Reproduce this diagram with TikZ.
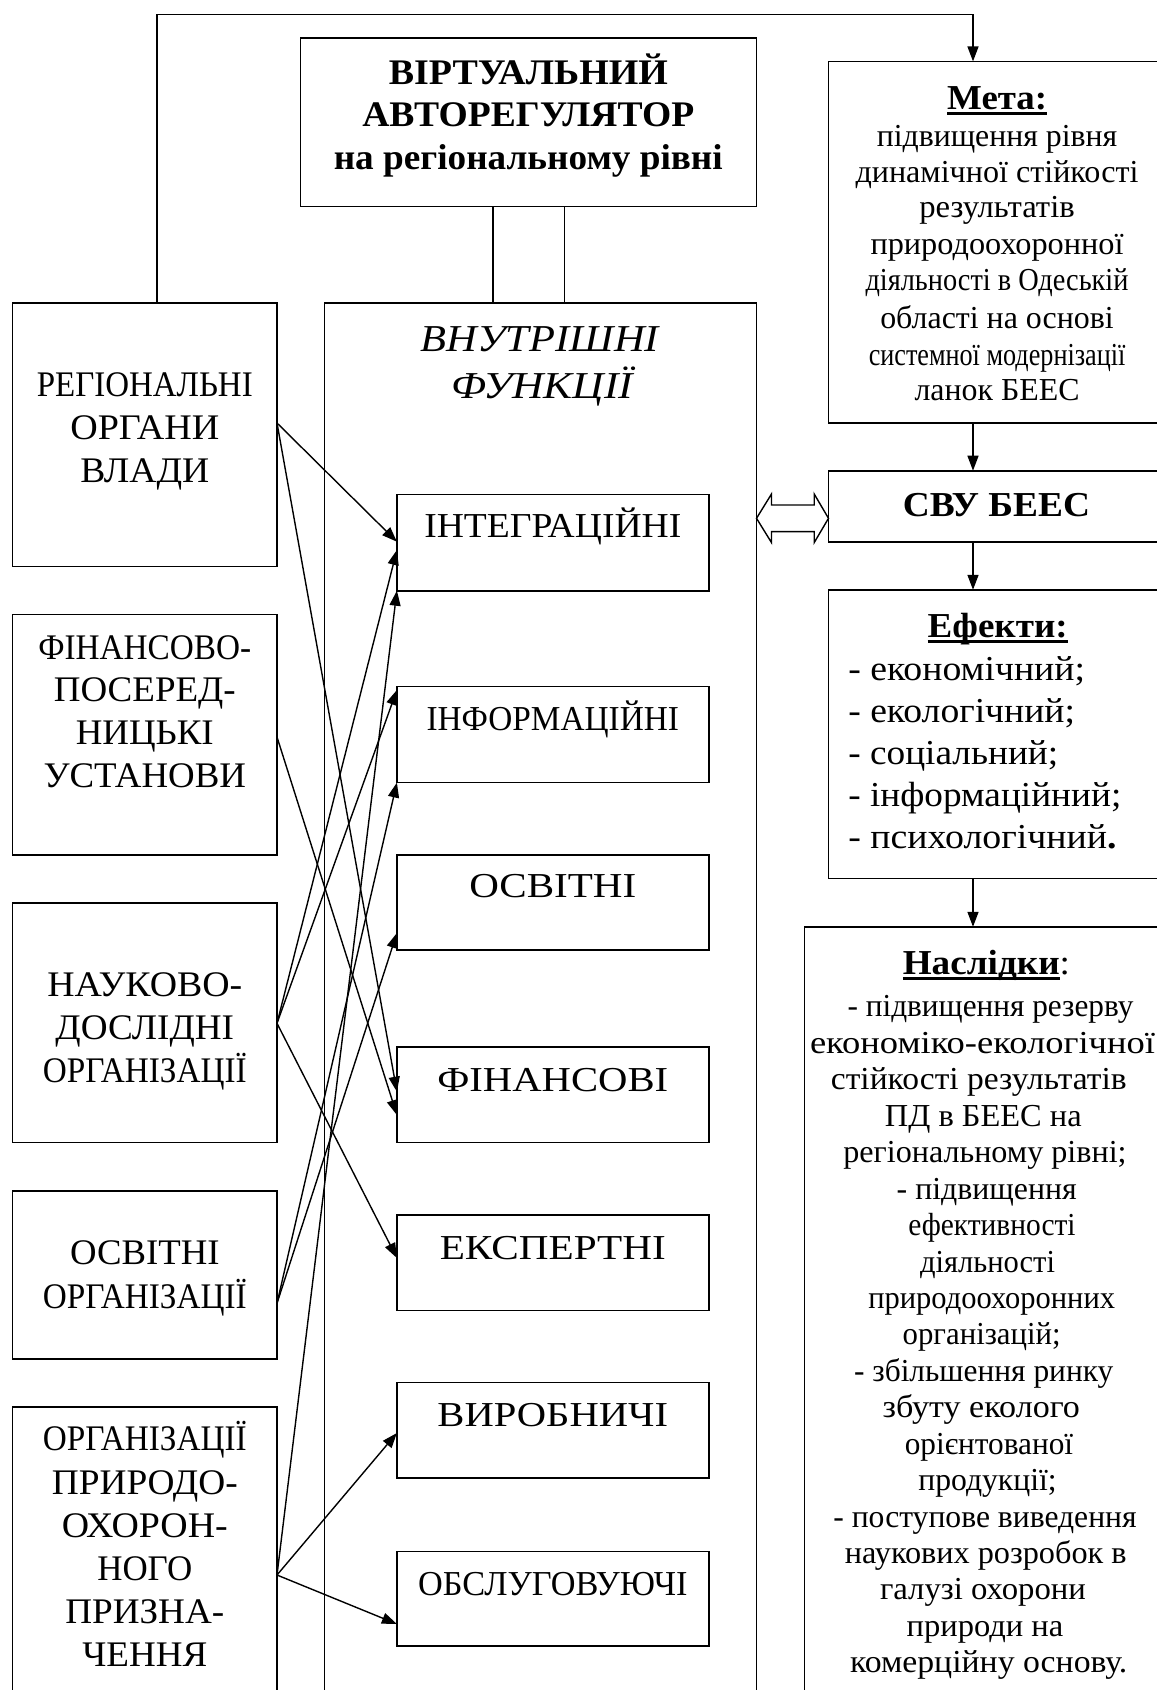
\documentclass[tikz,border=0pt]{standalone}
\usepackage{fontspec}
\setmainfont{Liberation Serif}
\usetikzlibrary{arrows.meta,calc}
\newcommand\W[2]{\resizebox{#1pt}{\height}{#2}}
\newsavebox\ulbox
\newcommand\ulx[1]{\sbox\ulbox{#1}\rlap{\rule[-5.5pt]{\wd\ulbox}{2.6pt}}\usebox\ulbox}
\begin{document}
\begin{tikzpicture}[x=1pt,y=-1pt,
  box/.style={draw,line width=1.6pt,inner sep=0pt,outer sep=0pt,anchor=north west},
  conn/.style={line width=1.4pt,-{Triangle[length=15pt,width=11pt]}},
  plain/.style={line width=1.4pt},
  lbl/.style={anchor=base,inner sep=0pt,outer sep=0pt},
  lblw/.style={anchor=base west,inner sep=0pt,outer sep=0pt},
  fv/.style={font=\fontsize{36}{36}\selectfont\bfseries},
  ff/.style={font=\fontsize{38}{38}\selectfont\itshape},
  fl/.style={font=\fontsize{36}{36}\selectfont},
  fi/.style={font=\fontsize{35}{35}\selectfont},
  fm/.style={font=\fontsize{32}{32}\selectfont},
  fmh/.style={font=\fontsize{35}{35}\selectfont\bfseries},
  fe/.style={font=\fontsize{35}{35}\selectfont},
  fs/.style={font=\fontsize{35}{35}\selectfont\bfseries},
  ]
\useasboundingbox (0,0) rectangle (1157,1690);
\fill[white] (0,0) rectangle (1157,1690);
\clip (0,0) rectangle (1157,1690);

% ---------- boxes ----------
\node[box,minimum width=456pt,minimum height=168.2pt] (virt) at (300.3,38.2) {};
\node[box,minimum width=431.9pt,minimum height=1420pt] (big) at (324.6,302.9) {};
\node[box,minimum width=264.4pt,minimum height=263.5pt] (reg) at (12.6,302.9) {};
\node[box,minimum width=264.4pt,minimum height=240.4pt] (fin) at (12.6,614.6) {};
\node[box,minimum width=264.4pt,minimum height=239.2pt] (nauk) at (12.6,903.2) {};
\node[box,minimum width=264.4pt,minimum height=167.8pt] (osv) at (12.6,1190.9) {};
\node[box,minimum width=264.4pt,minimum height=320pt] (prir) at (12.6,1406.8) {};
\node[box,minimum width=312.3pt,minimum height=96.4pt] (integ) at (396.9,494.3) {};
\node[box,minimum width=312.3pt,minimum height=96.1pt] (inform) at (396.9,686.4) {};
\node[box,minimum width=312.3pt,minimum height=95pt] (osvf) at (396.9,855) {};
\node[box,minimum width=312.3pt,minimum height=95.6pt] (finf) at (396.9,1046.8) {};
\node[box,minimum width=312.3pt,minimum height=95.6pt] (eksp) at (396.9,1214.7) {};
\node[box,minimum width=312.3pt,minimum height=95.5pt] (vyr) at (396.9,1382.6) {};
\node[box,minimum width=312.3pt,minimum height=94.5pt] (obsl) at (396.9,1551.5) {};
\node[box,minimum width=340pt,minimum height=361.3pt] (meta) at (828.5,61.4) {};
\node[box,minimum width=340pt,minimum height=71.3pt] (svu) at (828.5,470.7) {};
\node[box,minimum width=340pt,minimum height=288.7pt] (efekt) at (828.5,589.8) {};
\node[box,minimum width=364pt,minimum height=800pt] (nasl) at (804.4,926.8) {};

% ---------- connectors ----------
\coordinate (tl) at (157,14.3);
\coordinate (tr) at (973,14.3);
\coordinate (va) at (492.9,0);
\coordinate (vb) at (564.5,0);
\draw[conn] (reg.north -| tl) -- (tl) -- (tr) -- (meta.north -| tr);
\draw[plain] (virt.south -| va) -- (big.north -| va);
\draw[plain] (virt.south -| vb) -- (big.north -| vb);
\draw[conn] (meta.south -| tr) -- (svu.north -| tr);
\draw[conn] (svu.south -| tr) -- (efekt.north -| tr);
\draw[conn] (efekt.south -| tr) -- (nasl.north -| tr);

\draw[conn] ($(reg.north east)+(0,120.1)$) -- ($(integ.north west)+(0,47.4)$);
\draw[conn] ($(reg.north east)+(0,120.1)$) -- ($(finf.north west)+(0,44.9)$);
\draw[conn] ($(fin.north east)+(0,122.4)$) -- ($(finf.north west)+(0,68.2)$);
\draw[conn] ($(nauk.north east)+(0,120.1)$) -- ($(integ.north west)+(0,55.7)$);
\draw[conn] ($(nauk.north east)+(0,120.1)$) -- ($(inform.north west)+(0,3.6)$);
\draw[conn] ($(nauk.north east)+(0,120.1)$) -- ($(eksp.north west)+(0,43.3)$);
\draw[conn] ($(osv.north east)+(0,112.4)$) -- (inform.south west);
\draw[conn] ($(osv.north east)+(0,112.4)$) -- ($(osvf.north west)+(0,78)$);
\draw[conn] ($(prir.north east)+(0,168.2)$) -- (integ.south west);
\draw[conn] ($(prir.north east)+(0,168.2)$) -- ($(vyr.north west)+(0,50.4)$);
\draw[conn] ($(prir.north east)+(0,168.2)$) -- ($(obsl.north west)+(0,72.5)$);

% double hollow arrow between big box and СВУ
\coordinate (dl) at ($(big.north east)+(0,215.4)$);
\coordinate (dr) at (svu.west |- dl);
\draw[line width=1.4pt,line join=miter] (dl) -- ++(15,-24.3) -- ++(0,11) -- ($(dr)+(-14.3,-13.3)$) -- ++(0,-11) -- (dr)
  -- ++(-14.3,24.3) -- ++(0,-11) -- ($(dl)+(15,13.3)$) -- ++(0,11) -- cycle;

% ---------- texts ----------
\node[lbl,fv] (v1) at (528.3,84) {\W{279}{ВІРТУАЛЬНИЙ}};
\node[lbl,fv] (v2) at (528.3,126.8) {\W{332}{АВТОРЕГУЛЯТОР}};
\node[lbl,fv] (v3) at (528.3,169.6) {\W{389}{на регіональному рівні}};

\node[lbl,ff] (f1) at (539.8,351.8) {\W{238}{ВНУТРІШНІ}};
\node[lbl,ff] (f2) at (542.4,398.2) {\W{181.5}{ФУНКЦІЇ}};

\node[lbl,fl] (r1) at (144.8,396.4) {\W{216}{РЕГІОНАЛЬНІ}};
\node[lbl,fl] (r2) at (144.8,439.3) {\W{149}{ОРГАНИ}};
\node[lbl,fl] (r3) at (144.8,482.1) {\W{129}{ВЛАДИ}};

\node[lbl,fl] (p1) at (144.8,659.3) {\W{213}{ФІНАНСОВО-}};
\node[lbl,fl] (p2) at (144.8,701.4) {\W{182}{ПОСЕРЕД-}};
\node[lbl,fl] (p3) at (144.8,744.3) {\W{138}{НИЦЬКІ}};
\node[lbl,fl] (p4) at (144.8,787.1) {\W{202.5}{УСТАНОВИ}};

\node[lbl,fl] (n1) at (144.8,996.2) {\W{195}{НАУКОВО-}};
\node[lbl,fl] (n2) at (144.8,1039.3) {\W{178.6}{ДОСЛІДНІ}};
\node[lbl,fl] (n3) at (144.8,1082) {\W{204}{ОРГАНІЗАЦІЇ}};

\node[lbl,fl] (o1) at (144.8,1264.8) {\W{149.5}{ОСВІТНІ}};
\node[lbl,fl] (o2) at (144.8,1308.7) {\W{204}{ОРГАНІЗАЦІЇ}};

\node[lbl,fl] (q1) at (144.8,1450.8) {\W{204}{ОРГАНІЗАЦІЇ}};
\node[lbl,fl] (q2) at (144.8,1494.7) {\W{186}{ПРИРОДО-}};
\node[lbl,fl] (q3) at (144.8,1537) {\W{166}{ОХОРОН-}};
\node[lbl,fl] (q4) at (144.8,1580) {\W{95}{НОГО}};
\node[lbl,fl] (q5) at (144.8,1623.3) {\W{159}{ПРИЗНА-}};
\node[lbl,fl] (q6) at (144.8,1666.2) {\W{125}{ЧЕННЯ}};

\node[lbl,fi] (i1) at (552.8,537.1) {\W{257}{ІНТЕГРАЦІЙНІ}};
\node[lbl,fi] (i2) at (552.8,730.7) {\W{252.5}{ІНФОРМАЦІЙНІ}};
\node[lbl,fi] (i3) at (552.8,897.9) {\W{167}{ОСВІТНІ}};
\node[lbl,fi] (i4) at (552.8,1091.8) {\W{231}{ФІНАНСОВІ}};
\node[lbl,fi] (i5) at (552.8,1259.6) {\W{226}{ЕКСПЕРТНІ}};
\node[lbl,fi] (i6) at (552.8,1426.5) {\W{230.6}{ВИРОБНИЧІ}};
\node[lbl,fi] (i7) at (552.8,1595.4) {\W{269.4}{ОБСЛУГОВУЮЧІ}};

\node[lbl,fmh] (mh) at (997.2,109) {\W{100}{\ulx{Мета:}}};
\node[lbl,fm] (m1) at (997,146) {\W{240.5}{підвищення рівня}};
\node[lbl,fm] (m2) at (997,182) {\W{283}{динамічної стійкості}};
\node[lbl,fm] (m3) at (997,217.5) {\W{155.5}{результатів}};
\node[lbl,fm] (m4) at (997,254) {\W{253}{природоохоронної}};
\node[lbl,fm] (m5) at (997,290.5) {\W{263}{діяльності в Одеській}};
\node[lbl,fm] (m6) at (997,328) {\W{233.5}{області на основі}};
\node[lbl,fm] (m7) at (997,365) {\W{256.5}{системної модернізації}};
\node[lbl,fm] (m8) at (997,400.5) {\W{165}{ланок БЕЕС}};

\node[lbl,fs] (s1) at (996.4,516.5) {\W{187.3}{СВУ БЕЕС}};

\node[lbl,fmh] (eh) at (997.7,637.2) {\W{140}{\ulx{Ефекти:}}};
\node[lblw,fe] (e1) at (848.3,680.3) {\W{236.7}{- економічний;}};
\node[lblw,fe] (e2) at (848.3,722.2) {\W{226.7}{- екологічний;}};
\node[lblw,fe] (e3) at (848.3,764.6) {\W{210}{- соціальний;}};
\node[lblw,fe] (e4) at (848.3,806.5) {\W{273}{- інформаційний;}};
\node[lblw,fe] (e5) at (848.3,848.5) {\W{268.3}{- психологічний\textbf{.}}};

\node[lbl,fmh] (nh) at (986.4,974.5) {\W{167.3}{\ulx{Наслідки}\mdseries:}};
\node[lbl,fm] (k1) at (990.5,1016.9) {\W{285.7}{- підвищення резерву}};
\node[lbl,fm] (k2) at (982.5,1053.3) {\W{345}{економіко-екологічної}};
\node[lbl,fm] (k3) at (978.8,1089.8) {\W{295.7}{стійкості результатів}};
\node[lbl,fm] (k4) at (983.3,1126.2) {\W{196.7}{ПД в БЕЕС на}};
\node[lbl,fm] (k5) at (985,1162.7) {\W{283.3}{регіональному рівні;}};
\node[lbl,fm] (k6) at (986.7,1199.1) {\W{180}{- підвищення}};
\node[lbl,fm] (k7) at (992,1235.5) {\W{167.3}{ефективності}};
\node[lbl,fm] (k8) at (987.5,1272) {\W{135}{діяльності}};
\node[lbl,fm] (k9) at (991.7,1308.4) {\W{246.7}{природоохоронних}};
\node[lbl,fm] (k10) at (981.7,1344.9) {\W{158}{організацій;}};
\node[lbl,fm] (k11) at (983.7,1381.3) {\W{259.3}{- збільшення ринку}};
\node[lbl,fm] (k12) at (981.3,1417.7) {\W{197.3}{збуту еколого}};
\node[lbl,fm] (k13) at (989,1454.2) {\W{168.3}{орієнтованої}};
\node[lbl,fm] (k14) at (987.5,1490.6) {\W{138.3}{продукції;}};
\node[lbl,fm] (k15) at (985,1527) {\W{303.3}{- поступове виведення}};
\node[lbl,fm] (k16) at (985.8,1563.5) {\W{281.7}{наукових розробок в}};
\node[lbl,fm] (k17) at (983,1599.9) {\W{206}{галузі охорони}};
\node[lbl,fm] (k18) at (985,1636.4) {\W{156.7}{природи на}};
\node[lbl,fm] (k19) at (988.7,1672.8) {\W{277.3}{комерційну основу.}};
\end{tikzpicture}
\end{document}
